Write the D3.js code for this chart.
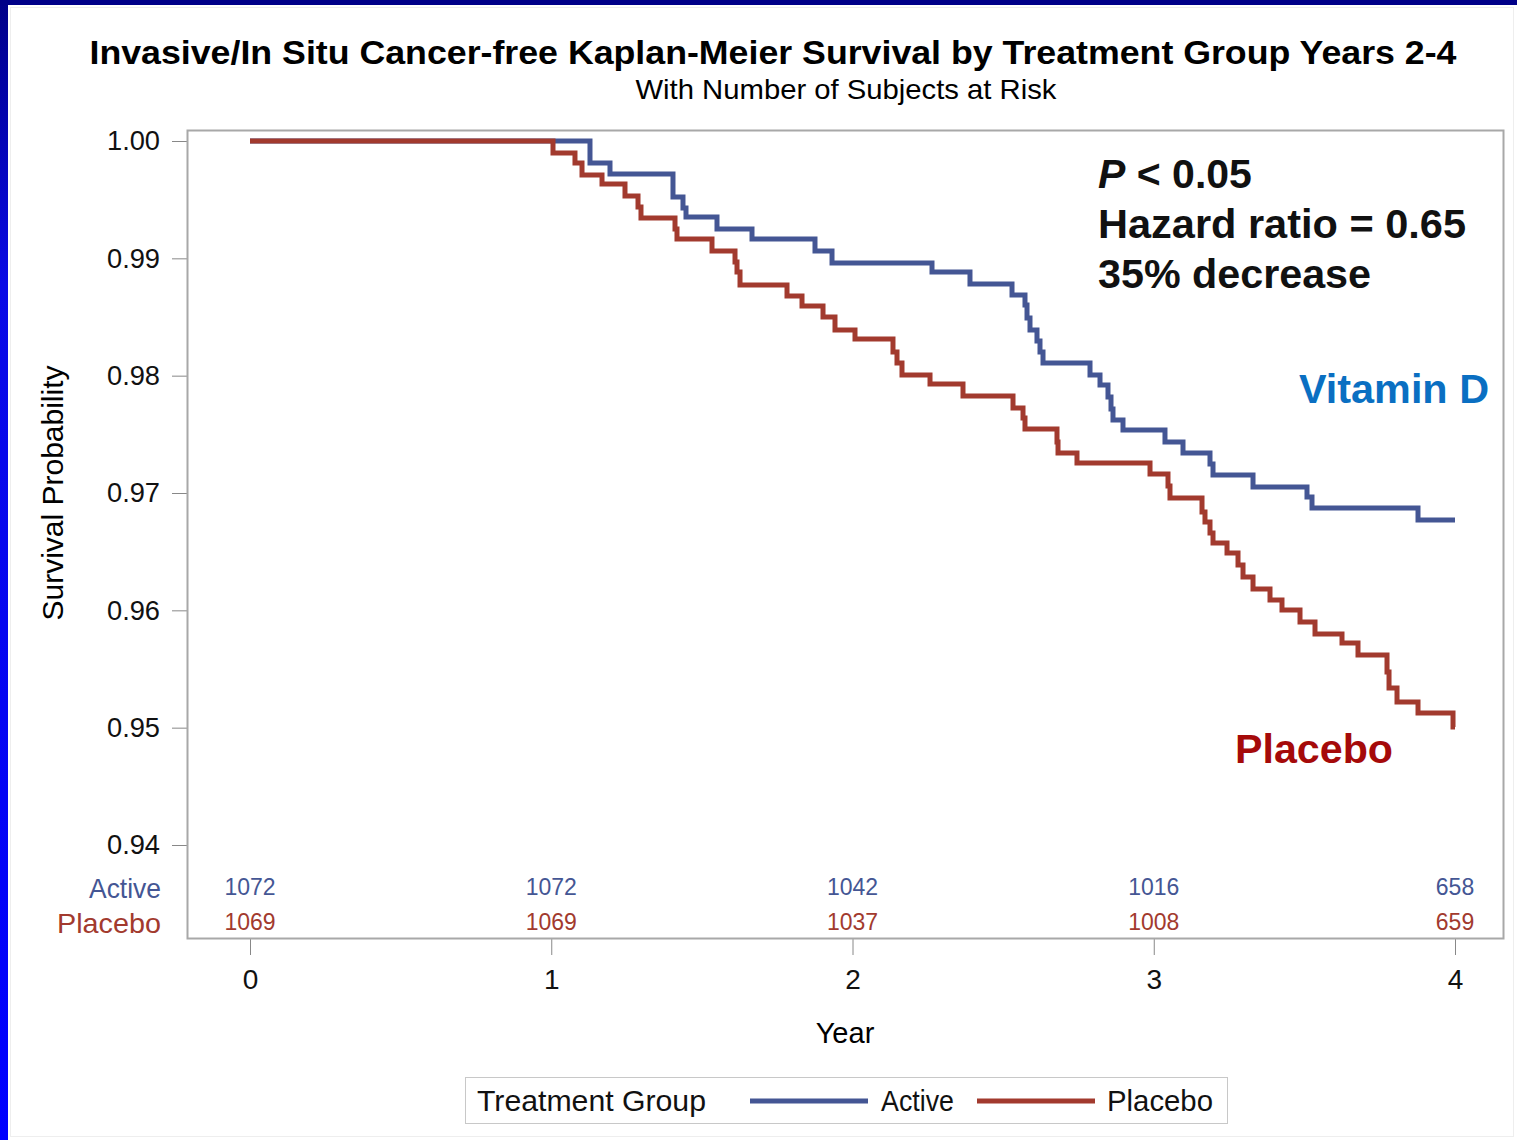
<!DOCTYPE html>
<html>
<meta charset="utf-8">
<head>
    <script src="https://d3js.org/d3.v7.min.js"></script>
    <style>
        body { margin: 0; background: #fff; }
        text { font-family: "Liberation Sans", Arial, sans-serif; }
    </style>
</head>
<body>
<div id="chart"></div>
<script>

// ---- data ----
var years = [0, 1, 2, 3, 4];
var yTicks = [0.94, 0.95, 0.96, 0.97, 0.98, 0.99, 1.00];

// Active (Vitamin D): event times (years) and survival after each event
var activeTime = [1.1286, 1.1950, 1.4041, 1.4373, 1.4473, 1.5502, 1.6664, 1.8755, 1.9320,
    2.2639, 2.3900, 2.5295, 2.5726, 2.5793, 2.5892, 2.6124, 2.6224, 2.6324, 2.7884,
    2.8216, 2.8481, 2.8581, 2.8647, 2.8979, 3.0373, 3.0971, 3.1867, 3.1967, 3.3295,
    3.5087, 3.5253, 3.8772];
var activeSurv = [0.99813, 0.99719, 0.99523, 0.99429, 0.99352, 0.99250, 0.99165, 0.99063, 0.98960,
    0.98884, 0.98781, 0.98688, 0.98602, 0.98491, 0.98389, 0.98295, 0.98202, 0.98108, 0.98006,
    0.97920, 0.97818, 0.97716, 0.97622, 0.97537, 0.97435, 0.97341, 0.97247, 0.97153, 0.97051,
    0.96966, 0.96872, 0.96770];

// Placebo
var placeboTime = [1.0058, 1.0788, 1.1021, 1.1685, 1.2448, 1.2880, 1.2979, 1.4108, 1.4174,
    1.5336, 1.6100, 1.6166, 1.6266, 1.7826, 1.8324, 1.9021, 1.9419, 2.0083, 2.1344,
    2.1477, 2.1643, 2.2573, 2.3668, 2.5328, 2.5660, 2.5726, 2.6788, 2.6822, 2.7452,
    2.9876, 3.0473, 3.0539, 3.1602, 3.1701, 3.1867, 3.1967, 3.2432, 3.2797, 3.2963,
    3.3295, 3.3859, 3.4257, 3.4855, 3.5353, 3.6249, 3.6780, 3.7743, 3.7810, 3.8075,
    3.8772, 3.9934];
var placeboSurv = [0.99898, 0.99813, 0.99710, 0.99634, 0.99531, 0.99438, 0.99344, 0.99250, 0.99165,
    0.99063, 0.98969, 0.98884, 0.98773, 0.98679, 0.98594, 0.98500, 0.98389, 0.98313, 0.98202,
    0.98108, 0.98006, 0.97929, 0.97827, 0.97724, 0.97639, 0.97545, 0.97435, 0.97341, 0.97256,
    0.97162, 0.97060, 0.96957, 0.96838, 0.96753, 0.96659, 0.96574, 0.96489, 0.96386, 0.96284,
    0.96182, 0.96088, 0.96003, 0.95901, 0.95798, 0.95722, 0.95619, 0.95474, 0.95338, 0.95219,
    0.95125, 0.95006];

// subjects at risk at each year
var atRiskActive = [1072, 1072, 1042, 1016, 658];
var atRiskPlacebo = [1069, 1069, 1037, 1008, 659];

var colActive = "#445694";
var colPlacebo = "#a23a2e";

// ---- canvas ----
var W = 1517, H = 1140;
var svg = d3.select("#chart").append("svg")
    .attr("width", W).attr("height", H);

var defs = svg.append("defs");
var grad = defs.append("linearGradient").attr("id", "edge")
    .attr("x1", 0).attr("y1", 0).attr("x2", 0).attr("y2", 1);
grad.append("stop").attr("offset", "0%").attr("stop-color", "#000088");
grad.append("stop").attr("offset", "25%").attr("stop-color", "#0a0ae6");
grad.append("stop").attr("offset", "100%").attr("stop-color", "#0000ff");

svg.append("rect").attr("x", 0).attr("y", 0).attr("width", W).attr("height", H).attr("fill", "#fff");
svg.append("rect").attr("x", 0).attr("y", 0).attr("width", 8).attr("height", H).attr("fill", "url(#edge)");
svg.append("rect").attr("x", 0).attr("y", 0).attr("width", W).attr("height", 5).attr("fill", "#000088");
svg.append("rect").attr("x", 10.5).attr("y", 7.5).attr("width", W - 14).attr("height", H - 11)
    .attr("fill", "none").attr("stroke", "#eeeeee");

// ---- scales ----
var x = d3.scaleLinear().domain([0, 4]).range([250, 1455]);
var y = d3.scaleLinear().domain([0.94, 1.00]).range([845, 141]);

var frame = { x: 187, y: 130, w: 1316, h: 808 };

// titles
svg.append("text")
    .attr("x", 773).attr("y", 64)
    .attr("text-anchor", "middle")
    .attr("font-size", 34).attr("font-weight", "bold")
    .attr("textLength", 1367).attr("lengthAdjust", "spacingAndGlyphs")
    .text("Invasive/In Situ Cancer-free Kaplan-Meier Survival by Treatment Group Years 2-4");

svg.append("text")
    .attr("x", 846).attr("y", 99)
    .attr("text-anchor", "middle")
    .attr("font-size", 28)
    .attr("textLength", 421).attr("lengthAdjust", "spacingAndGlyphs")
    .text("With Number of Subjects at Risk");

// ---- axes ----
var yAxis = d3.axisLeft(y)
    .tickValues(yTicks)
    .tickFormat(d3.format(".2f"))
    .tickSize(15)
    .tickPadding(12);

var gy = svg.append("g")
    .attr("transform", "translate(" + frame.x + ",0)")
    .call(yAxis);
gy.select(".domain").remove();
gy.selectAll("line").attr("stroke", "#888");
gy.selectAll("text").attr("font-size", 28).attr("fill", "#111")
    .attr("font-family", '"Liberation Sans", Arial, sans-serif')
    .attr("textLength", 53).attr("lengthAdjust", "spacingAndGlyphs");

var xAxis = d3.axisBottom(x)
    .tickValues(years)
    .tickFormat(d3.format("d"))
    .tickSize(17)
    .tickPadding(14);

var gx = svg.append("g")
    .attr("transform", "translate(0," + (frame.y + frame.h) + ")")
    .call(xAxis);
gx.select(".domain").remove();
gx.selectAll("line").attr("stroke", "#888");
gx.selectAll("text").attr("font-size", 28).attr("fill", "#111")
    .attr("font-family", '"Liberation Sans", Arial, sans-serif');

svg.append("text")
    .attr("x", 845).attr("y", 1043)
    .attr("text-anchor", "middle")
    .attr("font-size", 29)
    .text("Year");

svg.append("text")
    .attr("transform", "translate(63,493) rotate(-90)")
    .attr("text-anchor", "middle")
    .attr("font-size", 29)
    .attr("textLength", 255).attr("lengthAdjust", "spacingAndGlyphs")
    .text("Survival Probability");

// plot frame
svg.append("rect")
    .attr("x", frame.x + 0.5).attr("y", frame.y + 0.5)
    .attr("width", frame.w).attr("height", frame.h)
    .attr("fill", "none").attr("stroke", "#a8a8a8").attr("stroke-width", 2);

// ---- KM curves ----
function steps(times, surv) {
    var pts = [{ t: 0, s: 1 }];
    times.forEach(function (t, i) { pts.push({ t: t, s: surv[i] }); });
    pts.push({ t: 4, s: surv[surv.length - 1] });
    return pts;
}

var line = d3.line()
    .x(function (d) { return x(d.t); })
    .y(function (d) { return y(d.s); })
    .curve(d3.curveStepAfter);

svg.append("path")
    .datum(steps(activeTime, activeSurv))
    .attr("d", line)
    .attr("fill", "none")
    .attr("stroke", colActive)
    .attr("stroke-width", 5);

svg.append("path")
    .datum(steps(placeboTime, placeboSurv))
    .attr("d", line)
    .attr("fill", "none")
    .attr("stroke", colPlacebo)
    .attr("stroke-width", 5);

// ---- at-risk table ----
svg.append("text").attr("x", 161).attr("y", 898).attr("text-anchor", "end")
    .attr("font-size", 28).attr("fill", colActive)
    .attr("textLength", 72).attr("lengthAdjust", "spacingAndGlyphs").text("Active");
svg.append("text").attr("x", 161).attr("y", 933).attr("text-anchor", "end")
    .attr("font-size", 28).attr("fill", colPlacebo)
    .attr("textLength", 104).attr("lengthAdjust", "spacingAndGlyphs").text("Placebo");

svg.selectAll("text.riskA")
    .data(atRiskActive).enter()
    .append("text").attr("class", "riskA")
    .attr("x", function (d, i) { return x(years[i]); })
    .attr("y", 895)
    .attr("text-anchor", "middle")
    .attr("font-size", 23)
    .attr("fill", colActive)
    .text(function (d) { return d; });

svg.selectAll("text.riskP")
    .data(atRiskPlacebo).enter()
    .append("text").attr("class", "riskP")
    .attr("x", function (d, i) { return x(years[i]); })
    .attr("y", 930)
    .attr("text-anchor", "middle")
    .attr("font-size", 23)
    .attr("fill", colPlacebo)
    .text(function (d) { return d; });

// ---- annotations ----
var ann = svg.append("text").attr("x", 1098).attr("y", 188)
    .attr("font-size", 41).attr("font-weight", "bold").attr("fill", "#111");
ann.append("tspan").attr("font-style", "italic").text("P");
ann.append("tspan").text(" < 0.05");

svg.append("text").attr("x", 1098).attr("y", 238)
    .attr("font-size", 41).attr("font-weight", "bold").attr("fill", "#111")
    .attr("textLength", 368).attr("lengthAdjust", "spacingAndGlyphs")
    .text("Hazard ratio = 0.65");
svg.append("text").attr("x", 1098).attr("y", 288)
    .attr("font-size", 41).attr("font-weight", "bold").attr("fill", "#111")
    .attr("textLength", 273).attr("lengthAdjust", "spacingAndGlyphs")
    .text("35% decrease");

svg.append("text").attr("x", 1299).attr("y", 403)
    .attr("font-size", 41).attr("font-weight", "bold").attr("fill", "#0a6fc2")
    .attr("textLength", 190).attr("lengthAdjust", "spacingAndGlyphs")
    .text("Vitamin D");
svg.append("text").attr("x", 1235).attr("y", 763)
    .attr("font-size", 41).attr("font-weight", "bold").attr("fill", "#a50a0a")
    .attr("textLength", 158).attr("lengthAdjust", "spacingAndGlyphs")
    .text("Placebo");

// ---- legend ----
var lg = svg.append("g");
lg.append("rect").attr("x", 465.5).attr("y", 1077.5).attr("width", 762).attr("height", 46)
    .attr("fill", "#fff").attr("stroke", "#c8c8c8");
lg.append("text").attr("x", 477).attr("y", 1111).attr("font-size", 30).attr("fill", "#111")
    .attr("textLength", 229).attr("lengthAdjust", "spacingAndGlyphs")
    .text("Treatment Group");
lg.append("line").attr("x1", 750).attr("x2", 868).attr("y1", 1101).attr("y2", 1101)
    .attr("stroke", colActive).attr("stroke-width", 5);
lg.append("text").attr("x", 881).attr("y", 1111).attr("font-size", 30).attr("fill", "#111")
    .attr("textLength", 73).attr("lengthAdjust", "spacingAndGlyphs")
    .text("Active");
lg.append("line").attr("x1", 977).attr("x2", 1095).attr("y1", 1101).attr("y2", 1101)
    .attr("stroke", colPlacebo).attr("stroke-width", 5);
lg.append("text").attr("x", 1107).attr("y", 1111).attr("font-size", 30).attr("fill", "#111")
    .attr("textLength", 106).attr("lengthAdjust", "spacingAndGlyphs")
    .text("Placebo");

</script>
</body>
</html>
